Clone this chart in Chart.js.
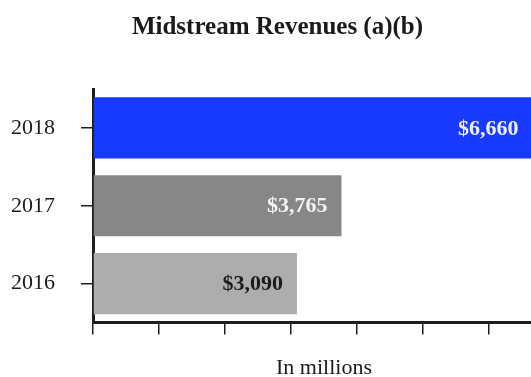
<!DOCTYPE html>
<html>
<head>
<meta charset="utf-8">
<script src="https://cdn.jsdelivr.net/npm/chart.js@4/dist/chart.umd.min.js"></script>
<style>
  html, body { margin: 0; padding: 0; background: #fff; overflow: hidden; }
  #wrap { width: 531px; height: 377px; overflow: hidden; position: relative; }
  canvas { display: block; }
</style>
</head>
<body>
<div id="wrap"><canvas id="c" width="555" height="382"></canvas></div>
<script>
// Midstream revenues by year, in millions of dollars
const years = ['2018', '2017', '2016'];
const revenues = [6660, 3765, 3090];
const barColors = ['#1839ff', '#878787', '#adadad'];
const labelColors = ['#eef0ff', '#f2f2f2', '#1c1c1c'];

const SERIF = '"Liberation Serif", "Times New Roman", Times, serif';
const AXIS = '#1e1e1e';

// Writes each bar's dollar value just inside its right end
const valueLabels = {
  id: 'valueLabels',
  afterDatasetsDraw(chart) {
    const ctx = chart.ctx;
    const meta = chart.getDatasetMeta(0);
    ctx.save();
    ctx.font = 'bold 22px ' + SERIF;
    ctx.textAlign = 'right';
    ctx.textBaseline = 'middle';
    meta.data.forEach((bar, i) => {
      const v = revenues[i];
      ctx.fillStyle = labelColors[i];
      ctx.fillText('$' + v.toLocaleString('en-US'), bar.x - 14, bar.y + 1);
    });
    ctx.restore();
  }
};

new Chart(document.getElementById('c'), {
  type: 'bar',
  data: {
    labels: years,
    datasets: [{
      data: revenues,
      backgroundColor: barColors,
      borderWidth: 0,
      categoryPercentage: 1,
      barPercentage: 0.785
    }]
  },
  options: {
    indexAxis: 'y',
    responsive: false,
    animation: false,
    events: [],
    layout: { padding: 0 },
    plugins: {
      legend: { display: false },
      tooltip: { enabled: false },
      title: {
        display: true,
        text: 'Midstream Revenues (a)(b)',
        color: '#1a1a1a',
        font: { family: SERIF, size: 25, weight: 'bold', lineHeight: 1.2 },
        padding: { top: 13, bottom: 46 }
      }
    },
    scales: {
      x: {
        min: 0,
        max: 7000,
        ticks: { stepSize: 1000, display: false },
        grid: {
          drawOnChartArea: false,
          drawTicks: true,
          tickLength: 12,
          color: AXIS,
          lineWidth: 1.5
        },
        border: { display: true, color: AXIS, width: 3 },
        title: {
          display: true,
          text: 'In millions',
          color: '#1a1a1a',
          font: { family: SERIF, size: 22, lineHeight: 1.2 },
          padding: { top: 20, bottom: 1 }
        }
      },
      y: {
        afterFit(scale) { scale.width = 93; },
        ticks: {
          color: '#1a1a1a',
          font: { family: SERIF, size: 22 },
          padding: 26
        },
        grid: {
          offset: false,
          drawOnChartArea: false,
          drawTicks: true,
          tickLength: 12,
          color: AXIS,
          lineWidth: 1.5
        },
        border: { display: true, color: AXIS, width: 3 }
      }
    }
  },
  plugins: [valueLabels]
});
</script>
</body>
</html>
